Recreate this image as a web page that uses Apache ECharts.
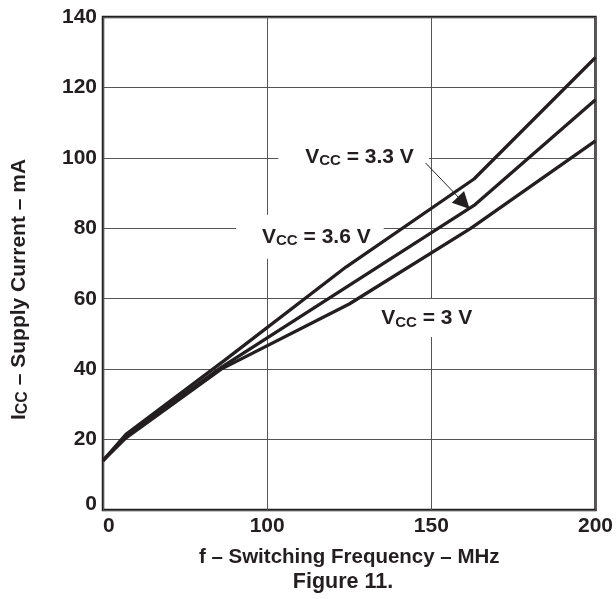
<!DOCTYPE html>
<html><head><meta charset="utf-8">
<script src="https://cdn.jsdelivr.net/npm/echarts@6/dist/echarts.min.js"></script>
<style>html,body{margin:0;padding:0;background:#fff}#c{width:616px;height:599px}</style>
</head><body><div id="c"></div>
<script>
// Data (f in MHz, Icc in mA)
const freq36 = [50, 57, 87, 124, 163, 200];
const icc36  = [14, 21.5, 42.5, 69, 94, 128.5];
const freq33 = [50, 57, 86, 163, 200];
const icc33  = [14, 21, 40.5, 86.5, 116.5];
const freq30 = [50, 57, 86, 125, 162, 200];
const icc30  = [14, 20.5, 40, 58.5, 80, 104.8];
const xTickValues = [50, 100, 150, 200];
const xTickLabels = ['0', '100', '150', '200'];
const yTickValues = [0, 20, 40, 60, 80, 100, 120, 140];
const yTickLabels = ['0', '20', '40', '60', '80', '100', '120', '140'];
const seriesNames = ['VCC = 3.6 V', 'VCC = 3.3 V', 'VCC = 3 V'];
const labelTexts = ['3.6 V', '3.3 V', '3 V'];

const FONT = 'Liberation Sans, Arial, sans-serif';
const INK = '#231f20';
function pairs(xs, ys) { return xs.map((x, i) => [x, ys[i]]); }
const richV = { fontSize: 21, fontWeight: 'bold', fontFamily: FONT, color: INK };
const richS = { fontSize: 15, fontWeight: 'bold', fontFamily: FONT, color: INK, padding: [9, 0, 0, 0] };
function vccLabel(t) { return '{v|V}{s|CC}{v| = ' + t + '}'; }

const chart = echarts.init(document.getElementById('c'), null, { renderer: 'canvas' });
const lineStyle = { color: INK, width: 3.3 };
chart.setOption({
  animation: false,
  backgroundColor: '#fff',
  grid: { left: 103, right: 20, top: 17, bottom: 89, show: true, borderColor: INK, borderWidth: 2.5, backgroundColor: 'transparent' },
  xAxis: {
    type: 'value', min: 50, max: 200, interval: 50,
    name: 'f – Switching Frequency – MHz', nameLocation: 'middle', nameGap: 37,
    nameTextStyle: { fontSize: 20.5, fontWeight: 'bold', fontFamily: FONT, color: INK },
    axisLine: { show: false }, axisTick: { show: false },
    axisLabel: { margin: 6, fontSize: 21, fontWeight: 'bold', fontFamily: FONT, color: INK,
      alignMinLabel: 'left',
      formatter: v => { const i = xTickValues.indexOf(v); return i >= 0 ? xTickLabels[i] : ''; } },
    splitLine: { show: true, lineStyle: { color: '#555', width: 1 } }
  },
  yAxis: {
    type: 'value', min: 0, max: 140, interval: 20,
    name: '{v|I}{s|CC}{v| – Supply Current – mA}', nameLocation: 'middle', nameGap: 72, nameRotate: 90,
    nameTextStyle: { padding: [0, 52, 0, 0],
      rich: { v: { fontSize: 21, fontWeight: 'bold', fontFamily: FONT, color: INK },
              s: { fontSize: 16, fontWeight: 'bold', fontFamily: FONT, color: INK, padding: [8, 0, 0, 0] } } },
    axisLine: { show: false }, axisTick: { show: false },
    axisLabel: { margin: 6, fontSize: 21, fontWeight: 'bold', fontFamily: FONT, color: INK,
      formatter: v => { const i = yTickValues.indexOf(v); if (i < 0) return ''; return i === 0 ? '{z|' + yTickLabels[i] + '}' : yTickLabels[i]; },
      rich: { z: { fontSize: 21, fontWeight: 'bold', fontFamily: FONT, color: INK, padding: [0, 0, 12, 0] } } },
    splitLine: { show: true, lineStyle: { color: '#555', width: 1 } }
  },
  graphic: [{ type: 'text', x: 343, y: 582, style: { text: 'Figure 11.', font: 'bold 21.5px ' + FONT, fill: INK, align: 'center', verticalAlign: 'middle' } }],
  series: [
    { name: seriesNames[0], type: 'line', data: pairs(freq36, icc36), symbol: 'none', lineStyle, z: 5 },
    { name: seriesNames[1], type: 'line', data: pairs(freq33, icc33), symbol: 'none', lineStyle, z: 5 },
    { name: seriesNames[2], type: 'line', data: pairs(freq30, icc30), symbol: 'none', lineStyle, z: 5 },
    { type: 'scatter', symbolSize: 0, z: 3, silent: true, itemStyle: { opacity: 1, color: INK },
      data: [
        { value: [126.3, 100.3], label: { formatter: vccLabel(labelTexts[1]), padding: [10, 15, 10, 27] } },
        { value: [113.0, 77.6], label: { formatter: vccLabel(labelTexts[0]), padding: [10, 13, 10, 26] } },
        { value: [148.6, 54.5], label: { formatter: vccLabel(labelTexts[2]), padding: [7, 10, 7, 10] } }
      ],
      label: { show: true, position: 'inside', opacity: 1, backgroundColor: '#fff', rich: { v: richV, s: richS } },
      markLine: { silent: true, symbol: ['none', 'triangle'], symbolSize: 17,
        lineStyle: { color: INK, width: 1, type: 'solid', opacity: 1 }, itemStyle: { color: INK }, label: { show: false },
        data: [[{ coord: [148.3, 98.5] }, { coord: [159.9, 87.2] }]] }
    }
  ]
});
</script></body></html>
